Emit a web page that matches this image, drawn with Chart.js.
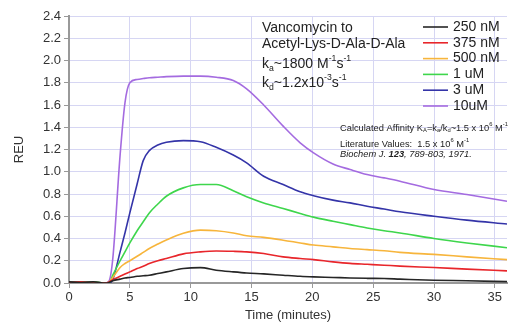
<!DOCTYPE html>
<html>
<head>
<meta charset="utf-8">
<script src="https://cdn.jsdelivr.net/npm/chart.js@4"></script>
<style>
  html, body { margin: 0; padding: 0; background: #fff; }
  #wrap { width: 512px; height: 327px; }
</style>
</head>
<body>
<div id="wrap"><canvas id="c"></canvas></div>
<script>
// time points (minutes)
const times = [0, 1, 2, 3, 3.3, 3.6, 4.2, 4.6, 5, 5.6, 6.1, 6.6, 7.3, 8, 9.4, 10.8, 12.1, 13.5, 14.6, 16, 17.6, 19, 20.1, 21.7, 23.1, 24.5, 25.9, 27.2, 30, 32.7, 36];

const labels = ['250 nM', '375 nM', '500 nM', '1 uM', '3 uM', '10uM'];
const colors = ['#262626', '#e8262b', '#f7b53c', '#3ed64c', '#3434a8', '#a46be0'];

const nM250 = [0.01, 0.005, 0.01, 0.0, 0.005, 0.02, 0.035, 0.045, 0.05, 0.06, 0.065, 0.07, 0.085, 0.10, 0.13, 0.138, 0.115, 0.10, 0.09, 0.082, 0.07, 0.06, 0.055, 0.05, 0.045, 0.042, 0.04, 0.035, 0.025, 0.02, 0.012];
const nM375 = [0.005, 0.01, 0.0, 0.0, 0.01, 0.03, 0.06, 0.08, 0.10, 0.13, 0.15, 0.175, 0.20, 0.22, 0.262, 0.28, 0.288, 0.285, 0.28, 0.265, 0.235, 0.22, 0.21, 0.19, 0.176, 0.168, 0.16, 0.152, 0.139, 0.125, 0.109];
const nM500 = [0.0, 0.01, 0.005, 0.0, 0.01, 0.05, 0.14, 0.175, 0.20, 0.24, 0.275, 0.31, 0.35, 0.387, 0.447, 0.475, 0.47, 0.45, 0.425, 0.41, 0.385, 0.36, 0.341, 0.325, 0.31, 0.30, 0.29, 0.275, 0.257, 0.235, 0.21];
const uM1 = [0.01, 0.0, 0.01, 0.0, 0.0, 0.07, 0.20, 0.28, 0.36, 0.47, 0.55, 0.63, 0.71, 0.78, 0.855, 0.885, 0.885, 0.83, 0.775, 0.72, 0.67, 0.625, 0.592, 0.555, 0.525, 0.495, 0.47, 0.45, 0.40, 0.36, 0.317];
const uM3 = [0.01, 0.0, 0.01, 0.0, 0.0, 0.03, 0.28, 0.45, 0.63, 0.89, 1.10, 1.19, 1.24, 1.265, 1.28, 1.27, 1.22, 1.15, 1.08, 0.96, 0.885, 0.82, 0.785, 0.745, 0.72, 0.69, 0.665, 0.64, 0.60, 0.565, 0.53];
const uM10 = [0.01, 0.01, 0.0, 0.0, 0.02, 0.22, 1.15, 1.62, 1.80, 1.83, 1.838, 1.845, 1.85, 1.855, 1.86, 1.86, 1.85, 1.82, 1.745, 1.60, 1.41, 1.26, 1.17, 1.07, 1.02, 0.975, 0.945, 0.915, 0.84, 0.795, 0.735];

const series = [nM250, nM375, nM500, uM1, uM3, uM10];

const xTicks = [0, 5, 10, 15, 20, 25, 30, 35];

function richText(ctx, x, y, runs, size) {
  // runs: [text, 'n' | 'sub' | 'sup']
  let cx = x;
  runs.forEach(([t, k]) => {
    const s = k === 'n' ? size : size * 0.62;
    const dy = k === 'sub' ? size * 0.3 : (k === 'sup' ? -size * 0.4 : 0);
    ctx.font = ctx.fontBase.replace('SZ', s.toFixed(1));
    ctx.fillText(t, cx, y + dy);
    cx += ctx.measureText(t).width;
  });
}

const notes = {
  id: 'notes',
  afterDraw(chart) {
    const ctx = chart.ctx;
    ctx.save();
    ctx.fillStyle = '#222';
    ctx.textBaseline = 'middle';
    ctx.textAlign = 'left';
    ctx.fontBase = 'SZpx "Liberation Sans", Arial, sans-serif';
    richText(ctx, 262, 28, [['Vancomycin to', 'n']], 14);
    richText(ctx, 262, 44, [['Acetyl-Lys-D-Ala-D-Ala', 'n']], 14);
    richText(ctx, 262, 64, [['k', 'n'], ['a', 'sub'], ['~1800 M', 'n'], ['-1', 'sup'], ['s', 'n'], ['-1', 'sup']], 14);
    richText(ctx, 262, 83, [['k', 'n'], ['d', 'sub'], ['~1.2x10', 'n'], ['-3', 'sup'], ['s', 'n'], ['-1', 'sup']], 14);

    // legend
    labels.forEach((lab, i) => {
      const y = 27 + i * 15.8;
      ctx.strokeStyle = colors[i];
      ctx.lineWidth = 1.6;
      ctx.beginPath();
      ctx.moveTo(423, y);
      ctx.lineTo(448, y);
      ctx.stroke();
      ctx.font = '14px "Liberation Sans", Arial, sans-serif';
      ctx.fillText(lab, 453, y);
    });

    // small print
    ctx.fontBase = 'SZpx "Liberation Sans Narrow", "Liberation Sans", Arial, sans-serif';
    richText(ctx, 340, 128, [['Calculated Affinity K', 'n'], ['A', 'sub'], ['=k', 'n'], ['a', 'sub'], ['/k', 'n'], ['d', 'sub'], ['~1.5 x 10', 'n'], ['6', 'sup'], [' M', 'n'], ['-1', 'sup']], 9.3);
    richText(ctx, 340, 144, [['Literature Values:  1.5 x 10', 'n'], ['6', 'sup'], [' M', 'n'], ['-1', 'sup']], 9.3);
    const it = 'italic 9.3px "Liberation Sans Narrow", "Liberation Sans", Arial, sans-serif';
    const itb = 'italic bold 9.3px "Liberation Sans Narrow", "Liberation Sans", Arial, sans-serif';
    let w = 340;
    ctx.font = it;
    ctx.fillText('Biochem J. ', w, 154);
    w += ctx.measureText('Biochem J. ').width;
    ctx.font = itb;
    ctx.fillText('123', w, 154);
    w += ctx.measureText('123').width;
    ctx.font = it;
    ctx.fillText(', 789-803, 1971.', w, 154);
    ctx.restore();
  }
};

new Chart(document.getElementById('c'), {
  type: 'line',
  data: {
    datasets: series.map((vals, i) => ({
      label: labels[i],
      data: times.map((t, j) => ({ x: t, y: vals[j] })),
      borderColor: colors[i],
      borderWidth: 1.6,
      pointRadius: 0,
      cubicInterpolationMode: 'monotone',
      fill: false
    }))
  },
  options: {
    responsive: true,
    maintainAspectRatio: false,
    animation: false,
    layout: { padding: { left: 0, right: 5, top: 16, bottom: 0 } },
    plugins: { legend: { display: false }, tooltip: { enabled: false } },
    scales: {
      x: {
        type: 'linear',
        min: 0,
        max: 36,
        afterBuildTicks: s => { s.ticks = xTicks.map(v => ({ value: v })); },
        afterFit: s => { s.height = 44; },
        grid: { color: '#d6d6f3', tickColor: '#999', tickLength: 5 },
        border: { color: '#999', width: 2 },
        ticks: { color: '#333', font: { size: 13, family: '"Liberation Sans", Arial' }, padding: 2, maxRotation: 0 },
        title: { display: true, text: 'Time (minutes)', color: '#333', font: { size: 13, family: '"Liberation Sans", Arial' }, padding: { top: 0, bottom: 4 } }
      },
      y: {
        min: 0,
        max: 2.4,
        ticks: { stepSize: 0.2, color: '#333', font: { size: 13, family: '"Liberation Sans", Arial' }, padding: 3, callback: v => v.toFixed(1) },
        afterFit: s => { s.width = 69; },
        grid: { color: '#d6d6f3', tickColor: '#999', tickLength: 5 },
        border: { color: '#999', width: 2 },
        title: { display: true, text: 'REU', color: '#333', font: { size: 13, family: '"Liberation Sans", Arial' }, padding: { top: 12, bottom: 0 } }
      }
    }
  },
  plugins: [notes]
});
</script>
</body>
</html>
